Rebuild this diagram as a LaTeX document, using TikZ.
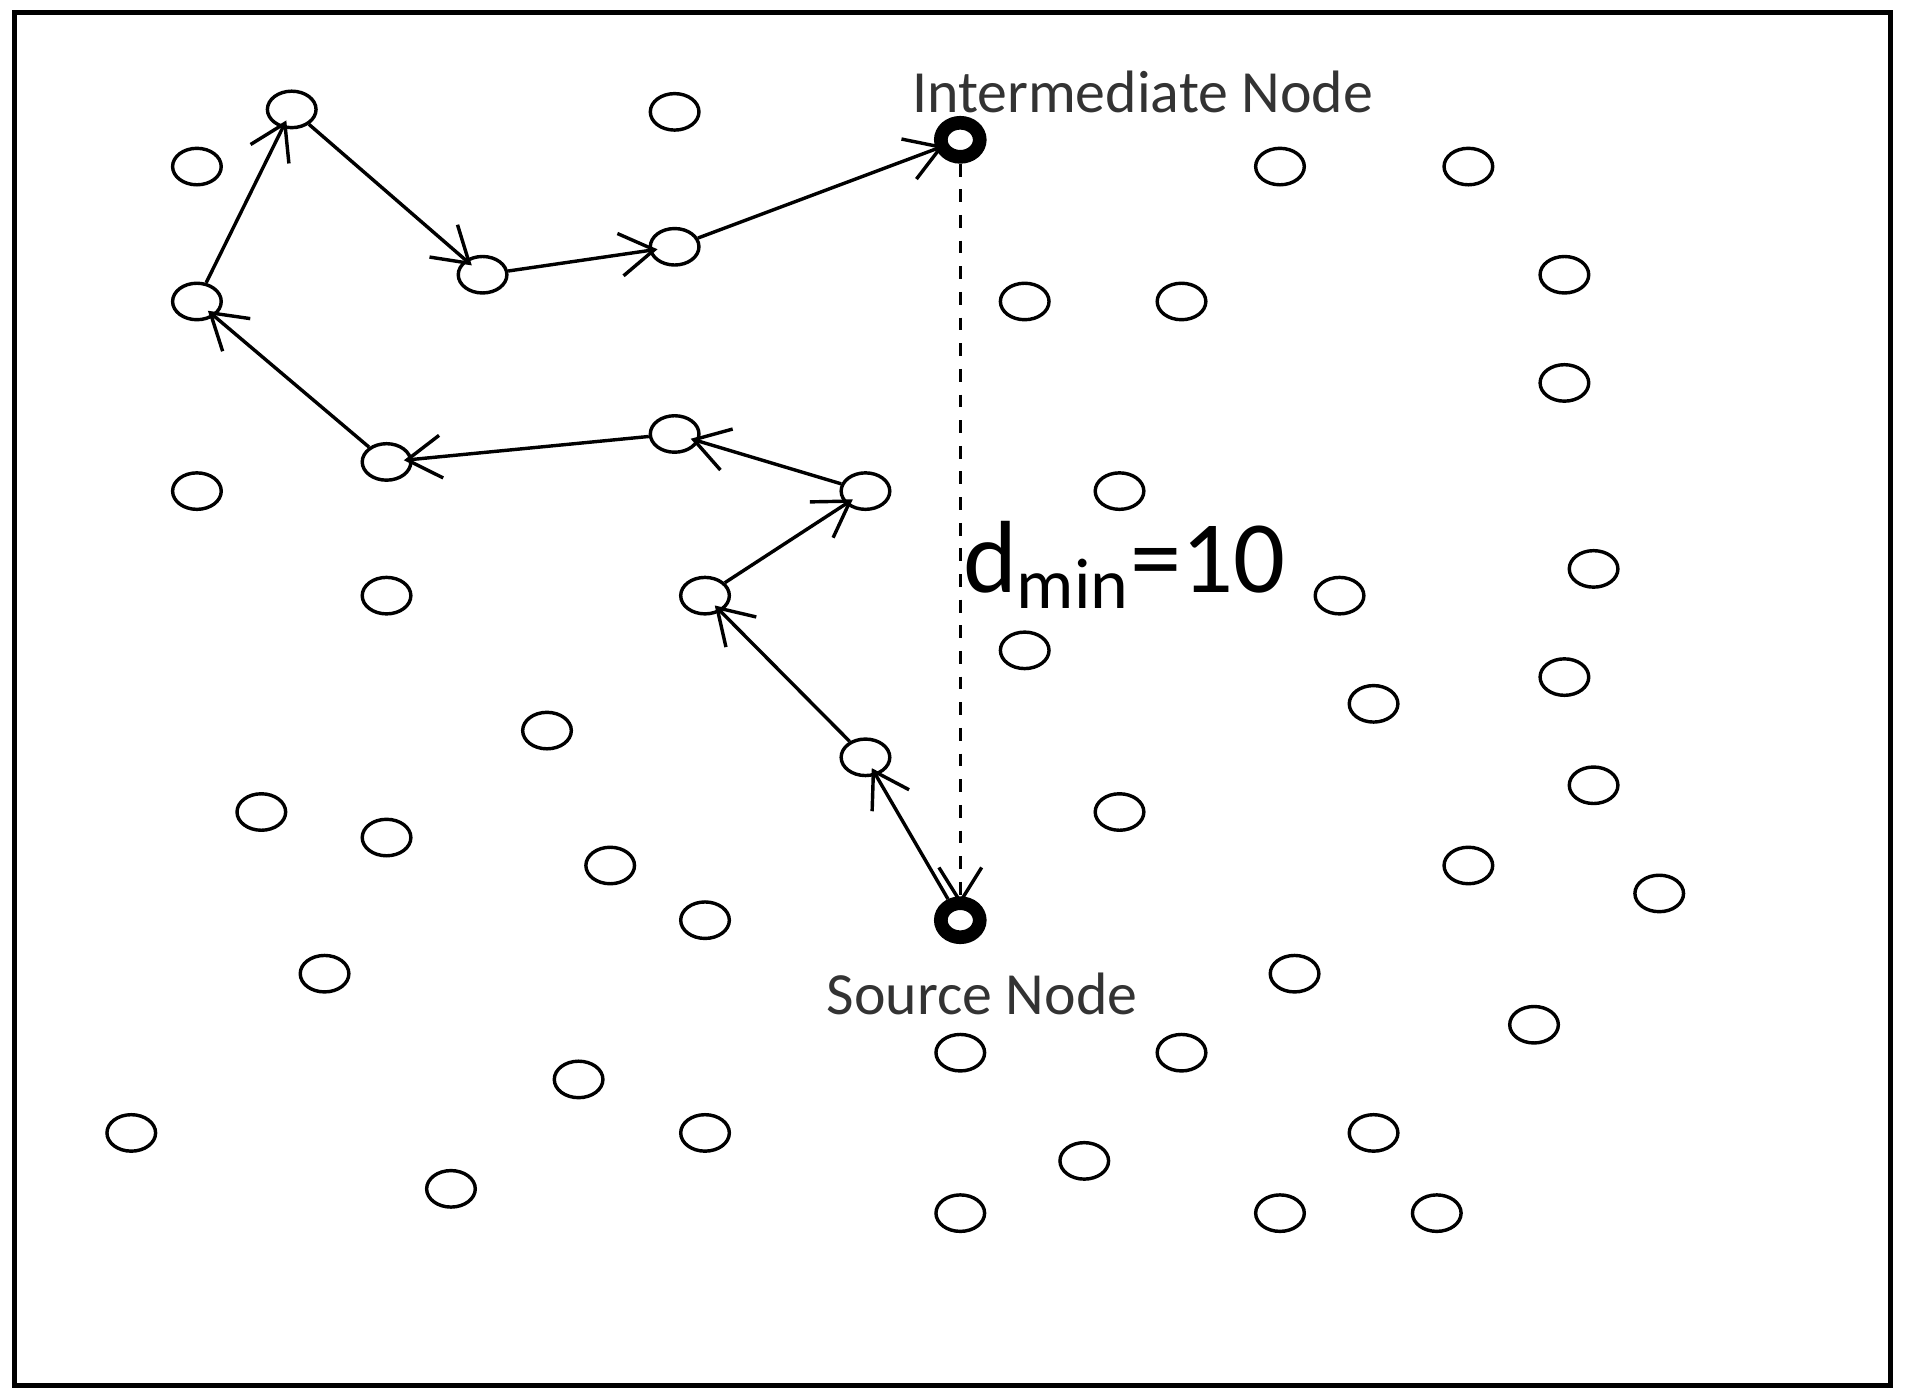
\documentclass[tikz,border=0pt]{standalone}
\usepackage{fontspec}
\setmainfont{Carlito}
\usetikzlibrary{arrows.meta,shapes.geometric}
\begin{document}
\begin{tikzpicture}[x=0.01cm,y=-0.01cm,
 nd/.style={draw,ellipse,minimum width=0.4cm,minimum height=0.3cm,inner sep=0pt,line width=0.8pt},
 bnd/.style={draw,ellipse,minimum width=0.32cm,minimum height=0.28cm,inner sep=0pt,line width=3.2pt},
 arr/.style={-{Straight Barb[length=8pt,width=10pt]},line width=0.8pt,shorten >=-2pt},
 lbl/.style={font=\fontsize{14}{16}\selectfont,text=black!80}]
\useasboundingbox (0,0) rectangle (1568,1150);
\draw[line width=1.2pt] (12,10) rectangle (1555,1140);
\foreach \x/\y [count=\i] in {555/92,162/137,1053/137,1208/137,162/404,843/248,972/248,1287/226,1287/315,921/404,318/490,1102/490,1311/468,843/535,1130/579,1287/557,450/601,215/668,318/689,502/712,921/668,1311/646,1208/712,1365/735,580/757,267/801,1065/801,790/866,972/866,1262/843,476/888,108/932,580/932,1130/932,892/955,371/978,790/998,1053/998,1182/998}
 \node[nd] (o\i) at (\x,\y) {};
\node[nd] (p1) at (712,623) {};
\node[nd] (p2) at (580,490) {};
\node[nd] (p3) at (712,404) {};
\node[nd] (p4) at (555,357) {};
\node[nd] (p5) at (318,380) {};
\node[nd] (p6) at (162,248) {};
\node[nd] (p7) at (240,90) {};
\node[nd] (p8) at (397,226) {};
\node[nd] (p9) at (555,203) {};
\node[bnd] (src) at (790,757) {};
\node[bnd] (int) at (790,115) {};
\draw[arr] (src) -- (p1);
\draw[arr] (p1) -- (p2);
\draw[arr] (p2) -- (p3);
\draw[arr] (p3) -- (p4);
\draw[arr] (p4) -- (p5);
\draw[arr] (p5) -- (p6);
\draw[arr] (p6) -- (p7);
\draw[arr] (p7) -- (p8);
\draw[arr] (p8) -- (p9);
\draw[arr] (p9) -- (int);
\draw[arr,dashed] (int) -- (src);
\node[lbl] (tI) at (940,76) {Intermediate Node};
\node[lbl] (tS) at (808,818) {Source Node};
\node[font=\fontsize{24}{26}\selectfont] (tD) at (925,465) {d\textsubscript{min}=10};
\end{tikzpicture}
\end{document}
